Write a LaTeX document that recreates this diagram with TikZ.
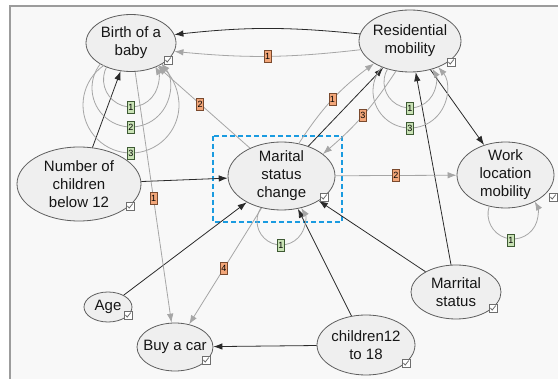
\documentclass[tikz,border=0pt]{standalone}
\usepackage{fontspec}
\setmainfont{Liberation Sans}
\usetikzlibrary{shapes.geometric,arrows.meta}

\definecolor{pagebg}{HTML}{F8F8F8}
\definecolor{framec}{HTML}{9C9C9C}
\definecolor{nodefill}{HTML}{EFEFEF}
\definecolor{nodeline}{HTML}{5E5E5E}
\definecolor{textc}{HTML}{161616}
\definecolor{edgeblk}{HTML}{2A2A2A}
\definecolor{edgegry}{HTML}{A6A6A6}
\definecolor{laborange}{HTML}{F2A679}
\definecolor{laborangeb}{HTML}{7A4A2E}
\definecolor{labgreen}{HTML}{C9E2B5}
\definecolor{labgreenb}{HTML}{3E5A34}
\definecolor{selbox}{HTML}{1A9BE0}
\definecolor{chkline}{HTML}{6E6E6E}

\tikzset{
  var/.style={ellipse, draw=nodeline, fill=nodefill, line width=0.8pt,
    inner sep=0pt},
  vtext/.style={align=center, text=textc, inner sep=0pt,
    font=\fontsize{15}{18}\selectfont},
  blk/.style={draw=edgeblk, line width=0.8pt, -{Latex[length=9pt,width=6.5pt]}},
  gry/.style={draw=edgegry, line width=0.8pt, -{Latex[length=9pt,width=6.5pt]}},
  lab/.style={rectangle, inner sep=0pt, minimum width=7pt, minimum height=12pt,
    line width=0.7pt, text=black, font=\fontsize{9}{9}\selectfont},
  orlab/.style={lab, fill=laborange, draw=laborangeb},
  grlab/.style={lab, fill=labgreen, draw=labgreenb},
  chk/.pic={
    \draw[draw=chkline, fill=white, line width=0.6pt] (-4,-4) rectangle (4,4);
    \draw[draw=chkline, line width=0.8pt] (-2.6,0) -- (-0.8,-2.1) -- (2.8,2.5);
  }
}

\begin{document}
\begin{tikzpicture}[x=1pt,y=1pt]
\useasboundingbox (0,0) rectangle (558,-379);
% window background and frame
\fill[white] (0,0) rectangle (558,-379);
\fill[pagebg] (10,-6) rectangle (558,-379);
\draw[framec, line width=1.5pt] (10,-379) -- (10,-6) -- (558,-6);

% selection frame
\draw[selbox, line width=1.1pt, dash pattern=on 5pt off 3pt] (213,-136) rectangle (342,-222);

% variables (ellipse size fixed, caption set as a centred label)
\node[var, minimum width=90pt,  minimum height=57pt, label={[vtext]center:{Birth of a\\baby}}] (birth) at (131,-43) {};
\node[var, minimum width=102pt, minimum height=62pt, label={[vtext]center:{Residential\\mobility}}] (res) at (410,-41) {};
\node[var, minimum width=124pt, minimum height=74pt, label={[vtext]center:{Number of\\children\\below 12}}] (nch) at (79,-184) {};
\node[var, minimum width=107pt, minimum height=68pt, label={[vtext]center:{Marital\\status\\change}}] (msc) at (281.5,-176) {};
\node[var, minimum width=97pt,  minimum height=66pt, label={[vtext]center:{Work\\location\\mobility}}] (work) at (505.5,-175) {};
\node[var, minimum width=48pt,  minimum height=30pt, label={[vtext]center:{Age}}] (age) at (108,-307) {};
\node[var, minimum width=76pt,  minimum height=48pt, label={[vtext]center:{Buy a car}}] (car) at (175,-347) {};
\node[var, minimum width=90pt,  minimum height=54pt, label={[vtext]center:{Marrital\\status}}] (mar) at (456,-292) {};
\node[var, minimum width=98pt,  minimum height=60pt, label={[vtext]center:{children12\\to 18}}] (kid) at (366,-345) {};

% black (observed) links
\draw[blk] (res.172) to[bend right=6] (birth.11);
\draw[blk] (nch) -- (birth);
\draw[blk] (nch) -- (msc);
\draw[blk] (msc.48) -- (res.225);
\draw[blk] (res) -- (work);
\draw[blk] (mar) -- (res);
\draw[blk] (mar) -- (msc);
\draw[blk] (kid) -- (msc);
\draw[blk] (age) -- (msc);
\draw[blk] (kid) -- (car);

% grey (lagged) links
\draw[gry] (res.190) to[bend left=6] node[orlab, pos=0.5] (l1) {1} (birth.-11);
\draw[gry] (birth) -- node[orlab, pos=0.506] (l2) {1} (car);
\draw[gry] (msc) -- node[orlab, pos=0.54] (l3) {2} (birth);
\draw[gry] (msc.62) to[bend left=10] node[orlab, pos=0.5] (l4) {1} (res.212);
\draw[gry] (res.245) to[bend left=8] node[orlab, pos=0.5] (l5) {3} (msc.28);
\draw[gry] (msc) -- node[orlab, pos=0.5] (l6) {2} (work);
\draw[gry] (msc) -- node[orlab, pos=0.52] (l7) {4} (car);

% self loops
\coordinate (bc1) at (131,-79.5);
\coordinate (bc2) at (131,-88);
\coordinate (bc3) at (131,-105);
\draw[gry] (bc1) ++(150.6:27.5) arc[start angle=150.6, end angle=389.4, radius=27.5];
\draw[gry] (bc2) ++(140.5:39) arc[start angle=140.5, end angle=399.5, radius=39];
\draw[gry] (bc3) ++(124:48) arc[start angle=124, end angle=416, radius=48];
\node[grlab] (b1) at (131,-107) {1};
\node[grlab] (b2) at (131,-127) {2};
\node[grlab] (b3) at (131,-153) {3};

\coordinate (rc1) at (410,-82);
\coordinate (rc3) at (410,-91);
\draw[gry] (rc1) ++(149:26) arc[start angle=149, end angle=391, radius=26];
\draw[gry] (rc3) ++(139.5:37) arc[start angle=139.5, end angle=400.5, radius=37];
\node[grlab] (r1) at (410,-108) {1};
\node[grlab] (r3) at (410,-128) {3};

\coordinate (mc1) at (281,-221);
\draw[gry] (mc1) ++(147:24) arc[start angle=147, end angle=393, radius=24];
\node[grlab] (m1) at (281,-245) {1};

\coordinate (wc1) at (513,-214);
\draw[gry] (wc1) ++(162:25) arc[start angle=162, end angle=390, radius=25];
\node[grlab] (w1) at (511,-240) {1};

% check boxes
\pic at (168,-60)  {chk};
\pic at (451,-62)  {chk};
\pic at (130,-206) {chk};
\pic at (324,-197) {chk};
\pic at (553,-197) {chk};
\pic at (128,-315) {chk};
\pic at (206,-360) {chk};
\pic at (493,-308) {chk};
\pic at (406,-363) {chk};
\end{tikzpicture}
\end{document}
